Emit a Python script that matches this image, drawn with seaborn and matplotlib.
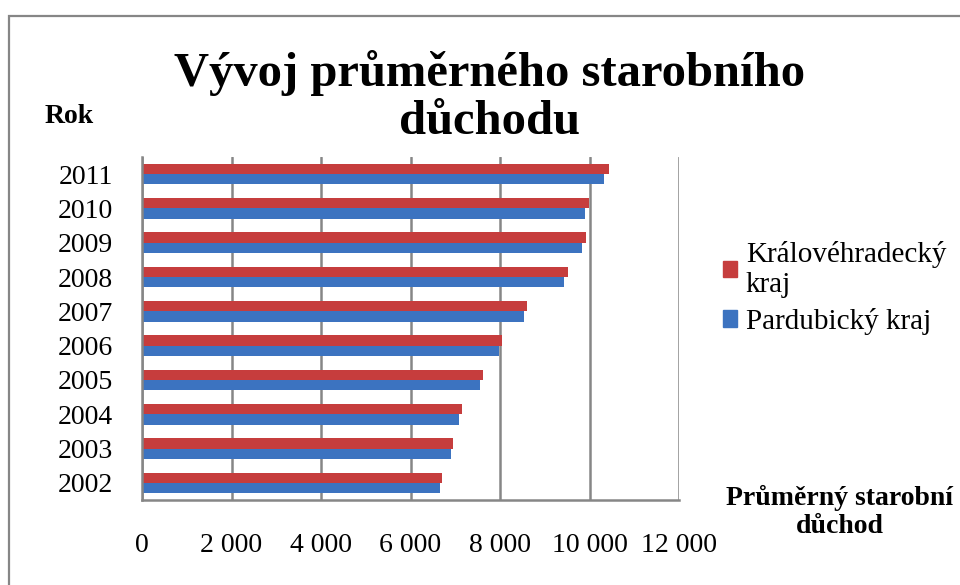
import matplotlib
matplotlib.use("Agg")
import matplotlib.pyplot as plt
import matplotlib.patches as mpatches
from matplotlib.ticker import FuncFormatter
import pandas as pd
import seaborn as sns

years = ["2011", "2010", "2009", "2008", "2007", "2006", "2005", "2004", "2003", "2002"]
kralovehradecky = [10440, 9990, 9920, 9520, 8600, 8045, 7620, 7150, 6950, 6705]
pardubicky = [10325, 9900, 9830, 9430, 8535, 7985, 7555, 7085, 6905, 6660]
series_names = ["Královéhradecký kraj", "Pardubický kraj"]
legend_labels = ["Královéhradecký\nkraj", "Pardubický kraj"]
colors = ["#C63D3D", "#3C73C0"]

df = pd.DataFrame({
    "Rok": years * 2,
    "Duchod": kralovehradecky + pardubicky,
    "Kraj": [series_names[0]] * len(years) + [series_names[1]] * len(years),
})

sns.set_theme(style="white")
plt.rcParams["font.family"] = ["Liberation Serif", "DejaVu Serif"]
plt.rcParams["text.color"] = "black"

fig = plt.figure(figsize=(9.6, 5.85), dpi=100)
ax = fig.add_axes([142 / 960, 1 - 500 / 585, 537 / 960, 343 / 585])

sns.barplot(data=df, y="Rok", x="Duchod", hue="Kraj", order=years, hue_order=series_names,
            palette=colors, orient="h", width=0.6, gap=0, saturation=1, linewidth=0,
            ax=ax, legend=True)

ax.set_xlim(0, 12000)
ax.set_ylim(9.5, -0.5)
ax.set_xticks(range(0, 12001, 2000))
ax.xaxis.set_major_formatter(FuncFormatter(lambda v, p: f"{int(v):,}".replace(",", " ")))
ax.grid(axis="x", color="#868686", linewidth=1.8)
ax.set_axisbelow(True)
for side in ["top", "right"]:
    ax.spines[side].set_visible(False)
for side in ["left", "bottom"]:
    ax.spines[side].set_color("#868686")
    ax.spines[side].set_linewidth(1.8)
ax.tick_params(axis="x", length=0, pad=24, labelsize=20, labelcolor="black")
ax.tick_params(axis="y", length=0, pad=21, labelsize=20, labelcolor="black")
ax.set_xlabel("")
ax.set_ylabel("")

handles = [mpatches.Patch(color=c) for c in colors]
ax.legend(handles, legend_labels, loc="center left", bbox_to_anchor=(708 / 960, 1 - 288 / 585),
          bbox_transform=fig.transFigure, frameon=False, fontsize=21, handlelength=0.5,
          handleheight=0.5, handletextpad=0.3, labelspacing=0.35, borderpad=0)

fig.text(490 / 960, 1 - 134 / 585, "Vývoj průměrného starobního\ndůchodu", ha="center", va="baseline",
         fontsize=35, fontweight="bold", linespacing=1.12)
fig.text(45 / 960, 1 - 123 / 585, "Rok", ha="left", va="baseline", fontsize=20, fontweight="bold")
fig.text(840 / 960, 1 - 533 / 585, "Průměrný starobní\ndůchod", ha="center", va="baseline",
         fontsize=20, fontweight="bold", linespacing=1.15)

fig.add_artist(mpatches.Rectangle((9 / 960, -0.1), 2, 1 - 16 / 585 + 0.1, transform=fig.transFigure,
                                  fill=False, edgecolor="#868686", linewidth=1.6))

fig.savefig("out.png", dpi=100)
